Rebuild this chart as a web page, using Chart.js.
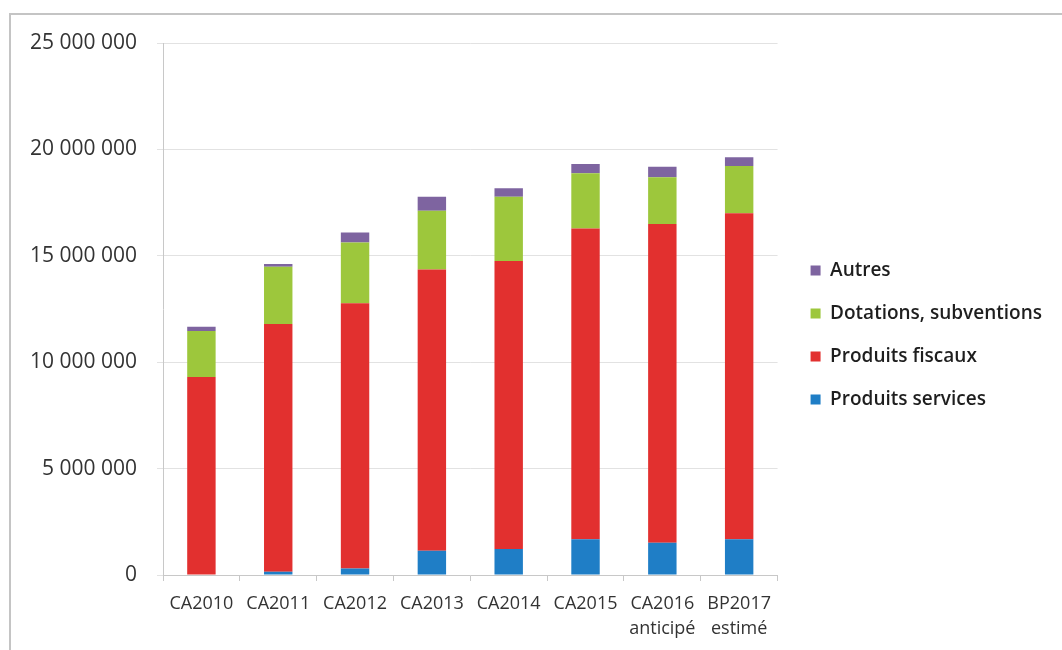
<!DOCTYPE html>
<html lang="fr">
<head>
<meta charset="utf-8">
<title>Recettes de fonctionnement</title>
<script src="https://cdn.jsdelivr.net/npm/chart.js@4.4.1/dist/chart.umd.min.js"></script>
<style>
    html, body { margin: 0; padding: 0; background: #fff; }
    #wrap { position: relative; width: 1062px; height: 650px; overflow: hidden; }
    #frame {
        position: absolute; left: 9px; top: 13px; right: -4px; bottom: -4px;
        border-left: 2px solid #c4c4c4; border-top: 2px solid #c4c4c4;
        pointer-events: none;
    }
</style>
</head>
<body>
<div id="wrap">
    <canvas id="recettes-chart" width="1062" height="650"></canvas>
    <div id="frame"></div>
</div>
<script>
// Exercices (comptes administratifs + budget primitif)
const categories = ['CA2010', 'CA2011', 'CA2012', 'CA2013', 'CA2014', 'CA2015', ['CA2016', 'anticipé'], ['BP2017', 'estimé']];

// Montants par nature de recette (en euros)
const produitsServices = [0, 150000, 310000, 1140000, 1220000, 1680000, 1520000, 1680000];
const produitsFiscaux = [9300000, 11640000, 12460000, 13220000, 13540000, 14600000, 14970000, 15320000];
const dotationsSubventions = [2170000, 2700000, 2850000, 2760000, 3020000, 2600000, 2200000, 2220000];
const autres = [200000, 120000, 470000, 660000, 390000, 430000, 500000, 410000];

const yTicks = [0, 5000000, 10000000, 15000000, 20000000, 25000000];

// format "25 000 000"
function formatMontant(v) {
    return String(v).replace(/\B(?=(\d{3})+(?!\d))/g, ' ');
}

// axe vide qui ne sert qu'à réserver de la place
function espace(position, taille) {
    return {
        position: position,
        display: true,
        grid: { display: false },
        border: { display: false },
        ticks: { display: false },
        afterFit: scale => {
            if (scale.isHorizontal()) scale.height = taille;
            else scale.width = taille;
        }
    };
}

const ctx = document.getElementById('recettes-chart').getContext('2d');

new Chart(ctx, {
    type: 'bar',
    data: {
        labels: categories,
        datasets: [
            { label: 'Produits services', data: produitsServices, backgroundColor: '#1f7ec6' },
            { label: 'Produits fiscaux', data: produitsFiscaux, backgroundColor: '#e2302f' },
            { label: 'Dotations, subventions', data: dotationsSubventions, backgroundColor: '#9dc73c' },
            { label: 'Autres', data: autres, backgroundColor: '#7e64a0' }
        ]
    },
    options: {
        responsive: false,
        animation: false,
        layout: { padding: { top: 25, bottom: 5, left: 0, right: 10 } },
        datasets: {
            bar: { categoryPercentage: 1, barPercentage: 0.37 }
        },
        plugins: {
            tooltip: { enabled: false },
            legend: {
                position: 'right',
                reverse: true,
                maxWidth: 320,
                labels: {
                    boxWidth: 10,
                    boxHeight: 10,
                    padding: 24,
                    color: '#1e1e1e',
                    font: { family: '"Open Sans", sans-serif', size: 19, weight: '600' }
                }
            }
        },
        scales: {
            x: {
                stacked: true,
                grid: { display: true, drawOnChartArea: false, tickLength: 6, color: '#c8c8c8' },
                border: { color: '#c8c8c8' },
                ticks: {
                    color: '#333',
                    padding: 10,
                    maxRotation: 0,
                    autoSkip: false,
                    font: { family: '"Open Sans", sans-serif', size: 18, lineHeight: 1.4 }
                },
                afterFit: scale => { scale.height = 70; }
            },
            y: {
                stacked: true,
                min: 0,
                max: 25000000,
                afterBuildTicks: scale => { scale.ticks = yTicks.map(v => ({ value: v })); },
                grid: { color: '#e2e2e2', tickLength: 6 },
                border: { color: '#c8c8c8' },
                ticks: {
                    color: '#333',
                    padding: 20,
                    font: { family: '"Open Sans", sans-serif', size: 21 },
                    callback: v => formatMontant(v)
                },
                afterFit: scale => { scale.width = 163; }
            },
            // marges autour de la zone de tracé
            margeHaut: espace('top', 18),
            margeDroite: espace('right', 9)
        }
    }
});
</script>
</body>
</html>
